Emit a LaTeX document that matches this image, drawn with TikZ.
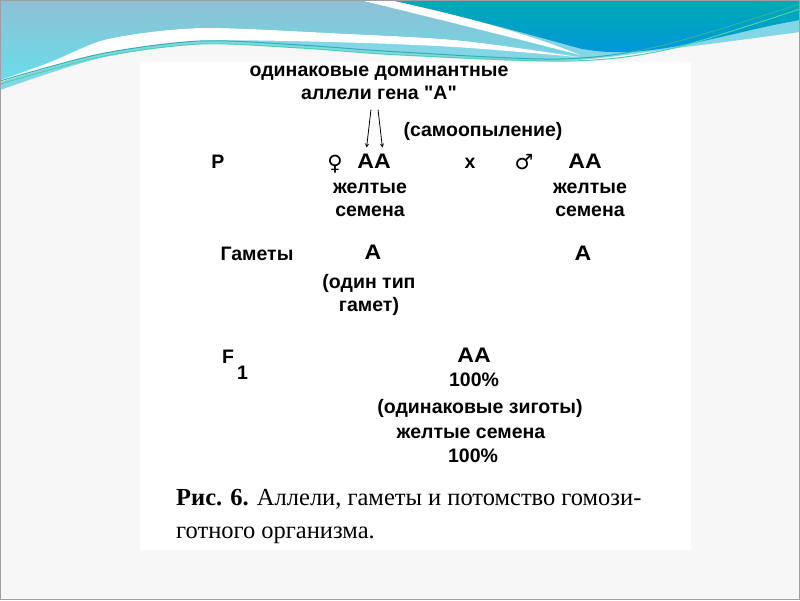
\documentclass[tikz,border=0pt]{standalone}
\usepackage{fontspec}
\setmainfont{Liberation Serif}
\newfontfamily\schemefont{Liberation Sans}
\newfontfamily\symfont{DejaVu Sans}
\usetikzlibrary{positioning}

\definecolor{slidebg}{HTML}{F7F7F7}
\definecolor{wavetop}{HTML}{8EC0D4}
\definecolor{wavelow}{HTML}{68DDE9}
\definecolor{waveband}{HTML}{82D6E6}
\definecolor{deeptop}{HTML}{00ABB3}
\definecolor{deeplow}{HTML}{0096DB}
\definecolor{lineA}{HTML}{2FB0AE}
\definecolor{lineB}{HTML}{4CD4A8}

\tikzset{
  lbl/.style={font=\schemefont\bfseries\fontsize{19.5}{22.5}\selectfont, inner sep=1pt, align=center},
  gen/.style={font=\schemefont\bfseries\fontsize{21}{24}\selectfont, xscale=1.1, inner sep=1pt},
  sym/.style={font=\symfont\bfseries\fontsize{21}{24}\selectfont, inner sep=1pt},
  captext/.style={font=\fontsize{24.5}{28}\selectfont, inner sep=0pt},
}

\begin{document}
\begin{tikzpicture}[x=1pt, y=-1pt]
    \useasboundingbox (0,0) rectangle (800,600);
    \fill[slidebg] (0,0) rectangle (800,600);
    \fill[white] (140,62) rectangle (691,550);

    % волна сверху
    \fill[waveband] (0,90) -- plot[smooth] coordinates {(0,90) (100,58) (200,44) (300,48) (400,55) (560,61) (693,46) (800,32)} -- (800,0) -- (0,0) -- cycle;
    \fill[white] plot[smooth] coordinates {(0,80) (50,62) (100,41) (150,32) (200,28) (250,29) (330,33) (455,40) (578,57)}
        -- plot[smooth] coordinates {(578,57) (455,47) (330,42) (200,41) (100,54) (0,82)} -- cycle;
    \shade[top color=wavetop, bottom color=wavelow] (0,0) -- (360,0) .. controls (450,22) and (530,42) .. (578,55)
        -- plot[smooth] coordinates {(578,55) (455,40) (330,33) (250,29) (200,28) (150,32) (100,41) (50,62) (0,80)} -- cycle;
    \fill[white] (360,0) .. controls (450,22) and (530,42) .. (580,55) .. controls (530,34) and (455,14) .. (390,0) -- cycle;
    \shade[top color=deeptop, bottom color=deeplow] (390,0) -- (800,0) -- (800,20) .. controls (740,30) and (670,54) .. (612,52)
        .. controls (600,52) and (590,50) .. (582,49) .. controls (520,32) and (455,14) .. (390,0) -- cycle;
    \draw[lineA, line width=1pt] plot[smooth] coordinates {(0,81) (100,54) (200,41) (300,45) (400,52) (560,59) (660,46) (800,4)};
    \draw[lineB, line width=1pt] plot[smooth] coordinates {(0,84) (100,57) (200,44) (300,48) (400,55) (570,61) (670,49) (800,9)};
    \draw[gray!75, line width=1pt] (0.5,0.5) rectangle (799.5,599.5);

    % родители
    \node[lbl] (allele) at (379,83) {одинаковые доминантные\\аллели гена "A"};
    \node[lbl] (self) at (483,131) {(самоопыление)};
    \node[lbl] (P) at (218,162) {P};
    \node[sym] (fem) at (335,164) {♀};
    \node[gen] (AAf) at (374,161) {AA};
    \node[lbl] (cross) at (470,163) {x};
    \node[sym] (mal) at (524,162) {♂};
    \node[gen] (AAm) at (585,161) {AA};
    \node[lbl] (seedf) at (370,200) {желтые\\семена};
    \node[lbl] (seedm) at (590,200) {желтые\\семена};

    \draw[-stealth, line width=0.8pt, shorten <=9pt, shorten >=5pt] ([xshift=-7pt]allele.south) -- ([xshift=-8pt]AAf.north);
    \draw[-stealth, line width=0.8pt, shorten <=9pt, shorten >=5pt] ([xshift=-2pt]allele.south) -- ([xshift=9pt]AAf.north);

    % гаметы
    \node[lbl] (gam) at (257,254) {Гаметы};
    \node[gen] (gA) at (373,252) {A};
    \node[gen] (gB) at (583,253) {A};
    \node[lbl] (onetype) at (369,295) {(один тип\\гамет)};

    % потомство
    \node[lbl, anchor=base west] (F1) at (221,363) {F\kern3pt\raisebox{-16pt}{1}};
    \node[gen] (AAo) at (474,355) {AA};
    \node[lbl] (pct1) at (474,380) {100\%};
    \node[lbl] (zyg) at (480,408) {(одинаковые зиготы)};
    \node[lbl] (seedo) at (471,433) {желтые семена};
    \node[lbl] (pct2) at (473,456) {100\%};

    \node[captext, anchor=base west] (cap1) at (176,505) {\textbf{Рис. 6.} Аллели, гаметы и потомство гомози-};
    \node[captext, anchor=base west] (cap2) at (176,538) {готного организма.};
\end{tikzpicture}
\end{document}
